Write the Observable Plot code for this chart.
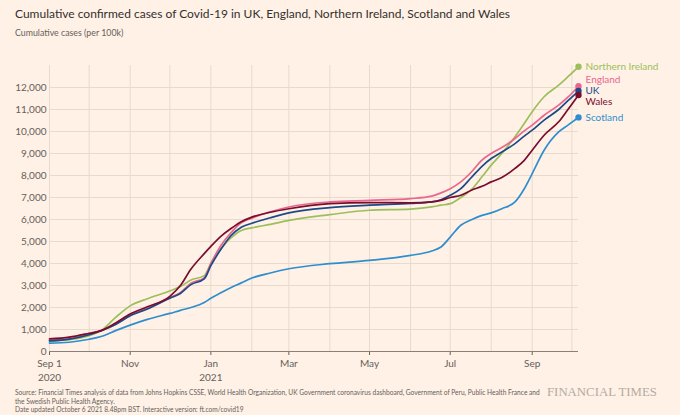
<!DOCTYPE html>
<html><head><meta charset="utf-8">
<script src="https://cdn.jsdelivr.net/npm/d3@7"></script>
<script src="https://cdn.jsdelivr.net/npm/@observablehq/plot@0.6"></script>
<style>
html,body{margin:0;padding:0;background:#fff1e5;}
#wrap{position:relative;width:680px;height:415px;overflow:hidden;font-family:Lato,"Open Sans",sans-serif;}
#title{position:absolute;left:15px;top:6px;font-size:12px;color:#33302e;white-space:nowrap;}
#subtitle{position:absolute;left:15px;top:27px;font-size:8.8px;color:#66605c;}
#chart{position:absolute;left:0;top:42px;}
#footer{position:absolute;left:15px;top:388px;width:535px;font-size:6.6px;line-height:8.5px;color:#66605c;}
#logo{position:absolute;left:547px;top:385px;font-family:"Liberation Serif","DejaVu Serif",serif;font-size:12.8px;color:#b5aba2;white-space:nowrap;}
</style></head>
<body><div id="wrap">
<div id="title">Cumulative confirmed cases of Covid-19 in UK, England, Northern Ireland, Scotland and Wales</div>
<div id="subtitle">Cumulative cases (per 100k)</div>
<div id="chart"></div>
<div id="footer">Source: Financial Times analysis of data from Johns Hopkins CSSE, World Health Organization, UK Government coronavirus dashboard, Government of Peru, Public Health France and the Swedish Public Health Agency.<br>Date updated October 6 2021 8.48pm BST. Interactive version: ft.com/covid19</div>
<div id="logo">FINANCIAL TIMES</div>
</div>
<script>
const dates = ["2020-09-01","2020-09-16","2020-10-01","2020-10-10","2020-10-21","2020-11-01","2020-11-14","2020-12-01","2020-12-09","2020-12-17","2020-12-27","2021-01-01","2021-01-09","2021-01-16","2021-01-24","2021-02-01","2021-02-15","2021-03-01","2021-04-01","2021-05-01","2021-06-01","2021-06-17","2021-06-24","2021-07-01","2021-07-09","2021-07-17","2021-07-25","2021-08-01","2021-08-09","2021-08-19","2021-08-26","2021-09-01","2021-09-10","2021-09-21","2021-09-28","2021-10-06"];
const uk = [480,560,760,940,1230,1620,1930,2420,2640,3040,3300,3900,4680,5250,5650,5830,6080,6300,6540,6650,6730,6800,6900,7100,7400,7910,8420,8770,9070,9450,9790,10060,10520,11000,11400,11840];
const england = [520,580,780,950,1250,1650,1955,2450,2680,3100,3350,4000,4850,5380,5850,6060,6350,6570,6800,6870,6950,7060,7210,7400,7710,8160,8700,9000,9270,9680,10030,10290,10740,11200,11560,12060];
const northernIreland = [470,540,720,950,1550,2075,2400,2750,2950,3250,3450,4000,4700,5150,5500,5620,5780,5960,6220,6420,6470,6570,6650,6720,7000,7360,7940,8470,9000,9760,10360,10900,11580,12110,12490,12940];
const scotland = [380,420,556,680,950,1200,1460,1730,1870,2000,2230,2420,2680,2900,3120,3340,3570,3760,3990,4140,4370,4570,4750,5200,5740,5990,6190,6300,6490,6800,7400,8090,9150,9980,10290,10640];
const wales = [570,650,830,950,1300,1700,2030,2510,3000,3750,4450,4780,5260,5580,5900,6110,6330,6490,6720,6770,6760,6800,6870,7000,7100,7330,7510,7710,7910,8320,8690,9150,9830,10440,11000,11660];
const seriesNames = ["Scotland","Northern Ireland","England","UK","Wales"];
const seriesValues = [scotland, northernIreland, england, uk, wales];
const seriesColors = ["#2e8ecf","#9cbf5c","#e9668f","#1c4a86","#7a0c2e"];
const xTickDates = ["2020-09-01","2020-11-01","2021-01-01","2021-03-01","2021-05-01","2021-07-01","2021-09-01"];
const xTickLabels = ["Sep 1\n2020","Nov","Jan\n2021","Mar","May","Jul","Sep"];
const yTicks = [0,1000,2000,3000,4000,5000,6000,7000,8000,9000,10000,11000,12000];

const parse = d3.utcParse("%Y-%m-%d");
const rows = seriesNames.flatMap((s,i)=>seriesValues[i].map((v,j)=>({series:s,date:parse(dates[j]),value:v})));
const lastDate = parse(dates[dates.length-1]);
const ends = seriesNames.map((s,i)=>({series:s,date:lastDate,value:seriesValues[i][seriesValues[i].length-1]}));

// simple label dodge in value space
const gap = 500;
const sorted = ends.slice().sort((a,b)=>b.value-a.value);
let clusters = sorted.map(d=>({items:[d],center:d.value}));
let merged = true;
while(merged){
  merged=false;
  for(let i=0;i<clusters.length-1;i++){
    const a=clusters[i], b=clusters[i+1];
    const aBottom=a.center-gap*(a.items.length-1)/2;
    const bTop=b.center+gap*(b.items.length-1)/2;
    if(aBottom-bTop<gap){
      const items=a.items.concat(b.items);
      clusters.splice(i,2,{items,center:d3.mean(items,d=>d.value)});
      merged=true;break;
    }
  }
}
clusters.forEach(c=>c.items.forEach((d,k)=>{d.labelY=c.center+gap*((c.items.length-1)/2-k);}));

const xStart = parse(dates[0]);
const monthTicks = d3.utcMonth.range(xStart, d3.utcDay.offset(lastDate,1));
const tickLabelMap = new Map(xTickDates.map((d,i)=>[+parse(d), xTickLabels[i]]));
const grid = "#e8dacd";

const chart = Plot.plot({
  width:680, height:345,
  marginLeft:49, marginRight:102, marginTop:23, marginBottom:36,
  style:{background:"transparent", fontFamily:"Lato, 'Open Sans', sans-serif", fontSize:"10px", color:"#66605c", overflow:"visible"},
  x:{type:"utc", domain:[xStart,lastDate]},
  y:{domain:[0,13000]},
  color:{domain:seriesNames, range:seriesColors},
  marks:[
    Plot.gridX(monthTicks,{stroke:grid,strokeOpacity:1}),
    Plot.gridY(yTicks.filter(d=>d>0),{stroke:grid,strokeOpacity:1}),
    Plot.axisY(yTicks,{tickSize:0,tickPadding:3,tickFormat:d3.format(","),label:null}),
    Plot.axisX(xTickDates.map(parse),{tickSize:4,tickPadding:2,tickFormat:d=>tickLabelMap.get(+d),label:null,lineHeight:1.35}),
    Plot.ruleY([0],{stroke:"#8a8079",strokeWidth:1}),
    Plot.line(rows,{x:"date",y:"value",z:"series",stroke:"series",strokeWidth:1.7,curve:"monotone-x"}),
    Plot.dot(ends,{x:"date",y:"value",fill:"series",r:3.2}),
    Plot.text(ends,{x:"date",y:"labelY",text:"series",fill:"series",textAnchor:"start",dx:7,fontSize:10})
  ]
});
document.getElementById("chart").appendChild(chart);
</script>
</body></html>
